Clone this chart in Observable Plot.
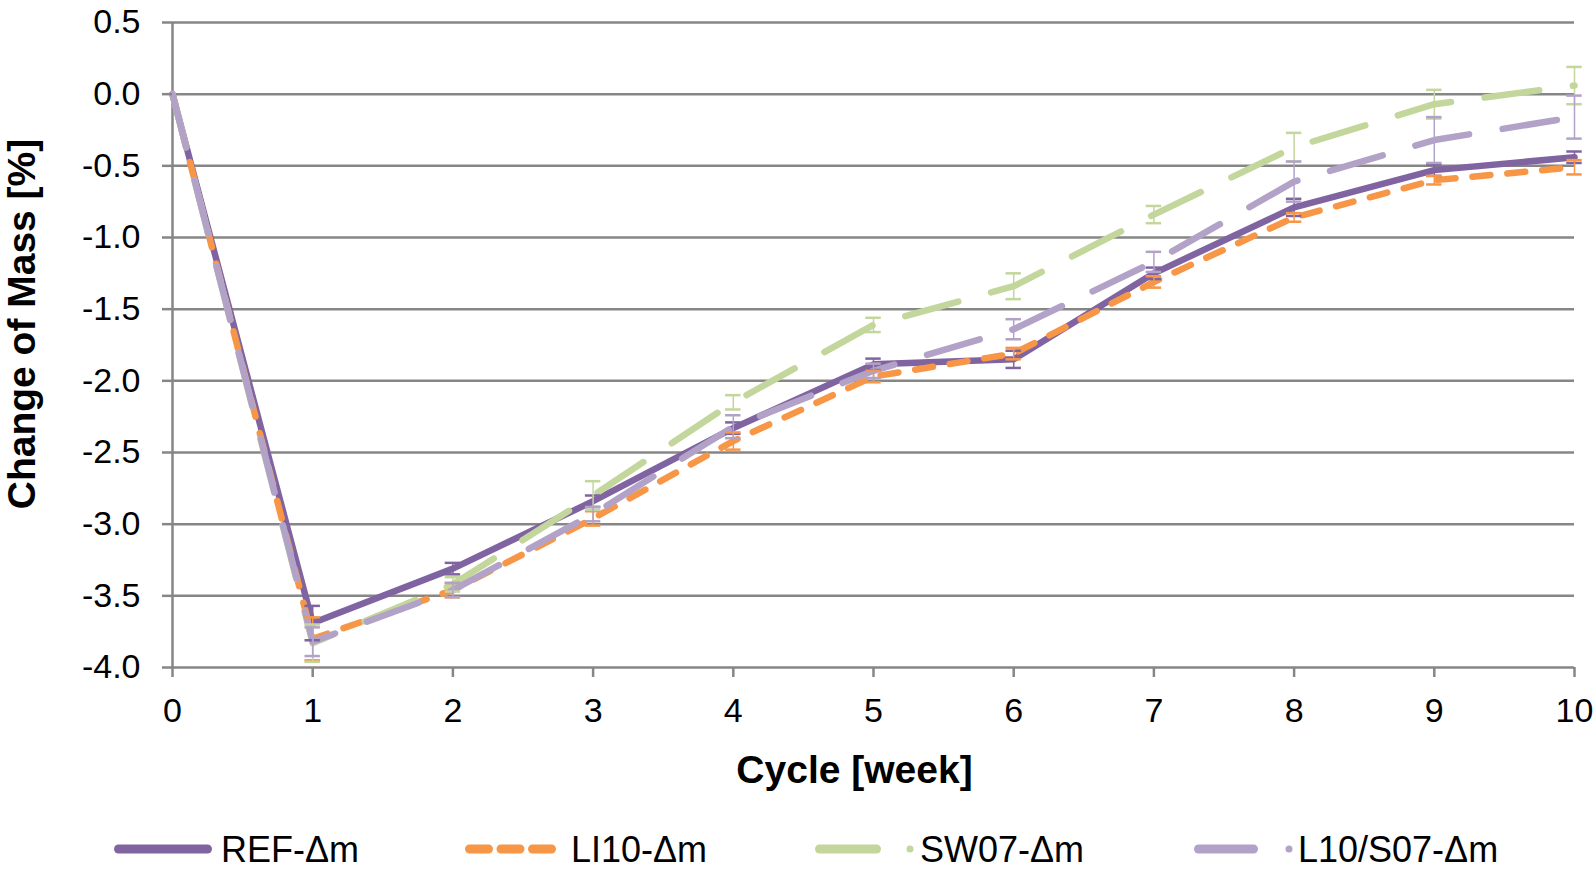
<!DOCTYPE html>
<html>
<head>
<meta charset="utf-8">
<script src="https://cdn.jsdelivr.net/npm/d3@7"></script>
<script src="https://cdn.jsdelivr.net/npm/@observablehq/plot@0.6"></script>
<style>
  html, body { margin: 0; padding: 0; background: #fff; }
  #wrap { position: relative; width: 1594px; height: 874px; font-family: "Liberation Sans", Arial, sans-serif; }
  #legend { position: absolute; left: 0; top: 800px; }
</style>
</head>
<body>
<div id="wrap"><div id="chart"></div><svg id="legend" width="1594" height="74"></svg></div>
<script>
// ---- data ----
const cycles = [0, 1, 2, 3, 4, 5, 6, 7, 8, 9, 10];
const seriesNames = ["REF-Δm", "LI10-Δm", "SW07-Δm", "L10/S07-Δm"];
const refValues  = [0, -3.69, -3.31, -2.84, -2.33, -1.885, -1.85, -1.25, -0.79, -0.53, -0.44];
const li10Values = [0, -3.80, -3.46, -2.96, -2.42, -1.97, -1.81, -1.31, -0.86, -0.60, -0.51];
const sw07Values = [0, -3.83, -3.42, -2.80, -2.15, -1.61, -1.34, -0.84, -0.37, -0.07, 0.06];
const l10s07Values = [0, -3.82, -3.46, -2.93, -2.32, -1.93, -1.64, -1.17, -0.61, -0.32, -0.16];
const refErrors  = [0, 0.12, 0.04, 0.04, 0.04, 0.04, 0.06, 0.04, 0.06, 0.04, 0.04];
const li10Errors = [0, 0.15, 0.05, 0.05, 0.06, 0.04, 0.04, 0.04, 0.03, 0.03, 0.05];
const sw07Errors = [0, 0.13, 0.05, 0.10, 0.05, 0.05, 0.09, 0.06, 0.10, 0.10, 0.13];
const l10s07Errors = [0, 0.10, 0.05, 0.05, 0.08, 0.05, 0.07, 0.07, 0.14, 0.16, 0.15];
const yTicks = [-4.0, -3.5, -3.0, -2.5, -2.0, -1.5, -1.0, -0.5, 0.0, 0.5];
const xTicks = [0, 1, 2, 3, 4, 5, 6, 7, 8, 9, 10];
const xLabel = "Cycle [week]";
const yLabel = "Change of Mass [%]";

// ---- styles ----
const colors = ["#8064A2", "#F79646", "#C3D69B", "#B3A2C7"];
const dashes = [null, "18,17", "55,34", "55,34"];
const allValues = [refValues, li10Values, sw07Values, l10s07Values];
const allErrors = [refErrors, li10Errors, sw07Errors, l10s07Errors];

const rows = [];
seriesNames.forEach((name, si) => {
  cycles.forEach((c, i) => rows.push({series: name, si, x: c, y: allValues[si][i], e: allErrors[si][i]}));
});

const grid = "#868686";
const marks = [
  Plot.ruleY(yTicks, {stroke: grid, strokeWidth: 2.5, x1: 0, x2: 10}),
  Plot.ruleX([0], {stroke: grid, strokeWidth: 2.5})
];
seriesNames.forEach((name, si) => {
  const data = rows.filter(d => d.si === si);
  marks.push(Plot.line(data, {
    x: "x", y: "y", stroke: colors[si], strokeWidth: 6.5,
    strokeDasharray: dashes[si], strokeLinecap: "round", strokeLinejoin: "round"
  }));
});
seriesNames.forEach((name, si) => {
  const data = rows.filter(d => d.si === si && d.e > 0);
  marks.push(Plot.ruleX(data, {x: "x", y1: d => d.y - d.e, y2: d => d.y + d.e, stroke: colors[si], strokeWidth: 1.5}));
  marks.push(Plot.ruleY(data, {y: d => d.y + d.e, x1: d => d.x - 0.055, x2: d => d.x + 0.055, stroke: colors[si], strokeWidth: 2.5}));
  marks.push(Plot.ruleY(data, {y: d => d.y - d.e, x1: d => d.x - 0.055, x2: d => d.x + 0.055, stroke: colors[si], strokeWidth: 2.5}));
});
marks.push(Plot.axisX(xTicks, {tickSize: 10, tickPadding: 20, stroke: grid, strokeWidth: 2.5, fill: "black", fontSize: 34, label: null, tickFormat: d => String(d)}));
marks.push(Plot.axisY(yTicks, {tickSize: 10, tickPadding: 22, stroke: grid, strokeWidth: 2.5, fill: "black", fontSize: 34, label: null, tickFormat: d => d.toFixed(1)}));
marks.push(Plot.text([xLabel], {frameAnchor: "bottom", dy: 115, dx: -19, fontSize: 39, fontWeight: "bold", fill: "black"}));
marks.push(Plot.text([yLabel], {frameAnchor: "left", textAnchor: "middle", dx: -150, dy: -21, rotate: -90, fontSize: 39, fontWeight: "bold", fill: "black"}));

const chart = Plot.plot({
  width: 1594,
  height: 800,
  marginLeft: 172,
  marginRight: 20,
  marginTop: 22,
  marginBottom: 133,
  style: {fontFamily: "Liberation Sans, Arial, sans-serif", color: "black", background: "white", overflow: "visible"},
  x: {domain: [0, 10]},
  y: {domain: [-4, 0.5]},
  marks
});
document.getElementById("chart").appendChild(chart);

// ---- legend ----
const lg = d3.select("#legend");
const legendItems = [
  {lineStart: 118.5, lineEnd: 207.5, dash: null, dot: null, textX: 221},
  {lineStart: 469.5, lineEnd: 551.5, dash: "19,12.5", dot: null, textX: 571},
  {lineStart: 819.5, lineEnd: 876.5, dash: null, dot: 910, textX: 920},
  {lineStart: 1198.5, lineEnd: 1253.5, dash: null, dot: 1289, textX: 1298}
];
legendItems.forEach((it, i) => {
  lg.append("line").attr("x1", it.lineStart).attr("x2", it.lineEnd).attr("y1", 49).attr("y2", 49)
    .attr("stroke", colors[i]).attr("stroke-width", 9).attr("stroke-linecap", "round")
    .attr("stroke-dasharray", it.dash);
  if (it.dot != null) {
    lg.append("line").attr("x1", it.dot).attr("x2", it.dot).attr("y1", 49).attr("y2", 49)
      .attr("stroke", colors[i]).attr("stroke-width", 7).attr("stroke-linecap", "round");
  }
  lg.append("text").attr("x", it.textX).attr("y", 62).attr("font-size", 36)
    .attr("font-family", "Liberation Sans, Arial, sans-serif").attr("fill", "black").text(seriesNames[i]);
});
</script>
</body>
</html>
